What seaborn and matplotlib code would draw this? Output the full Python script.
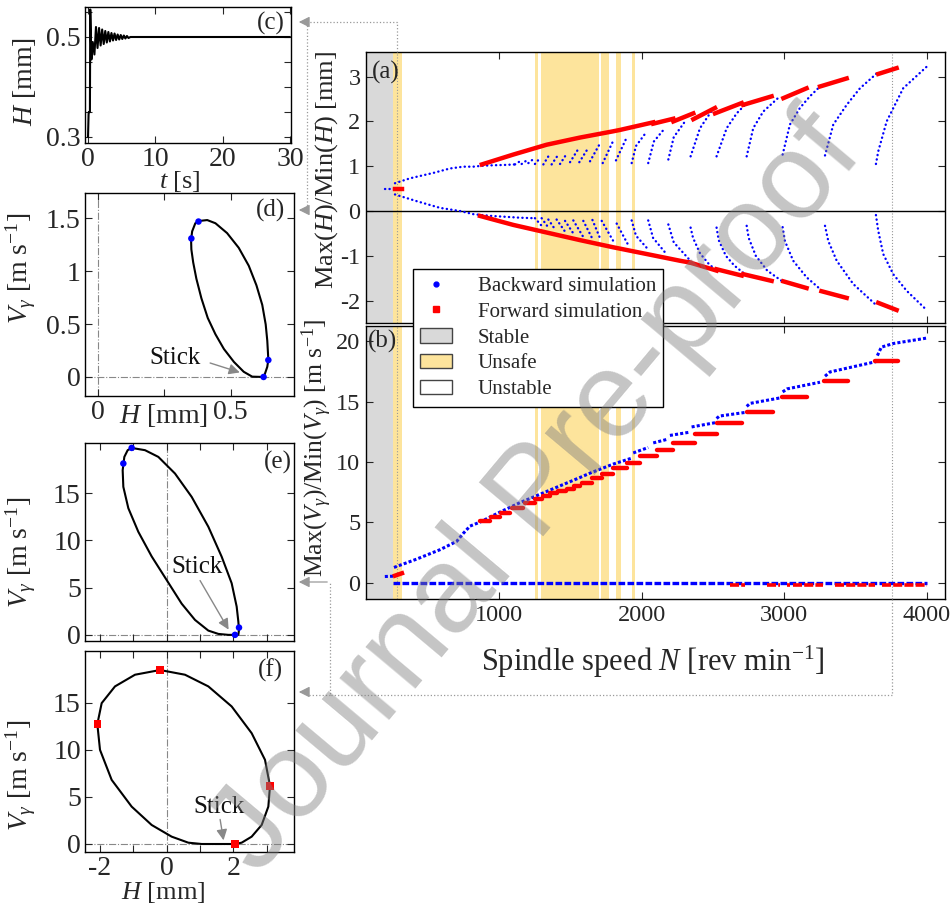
import matplotlib
matplotlib.use("Agg")
import matplotlib.pyplot as plt
import seaborn as sns
from matplotlib.lines import Line2D
from matplotlib.patches import Patch, FancyArrowPatch

sns.set_theme(style="ticks")
plt.rcParams['font.family'] = ['Liberation Serif', 'DejaVu Serif']
plt.rcParams['mathtext.fontset'] = 'custom'
plt.rcParams['mathtext.rm'] = 'Liberation Serif'
plt.rcParams['mathtext.it'] = 'Liberation Serif:italic'
plt.rcParams['mathtext.bf'] = 'Liberation Serif:bold'
plt.rcParams['axes.unicode_minus'] = False

# ---------------- data: regions ----------------
stable_span = (60, 259)
unsafe_spans = [(259, 318), (1252, 1273), (1294, 1701), (1715, 1771), (1818, 1855), (1932, 1953)]
marker_N = [285, 3755]

# ---------------- data: panel (a) ----------------
a_blue_stable_N = [200, 270]
a_blue_stable_H = [0.49, 0.49]
a_red_stable_N = [271, 320]
a_red_stable_H = [0.49, 0.49]

a_blue_up_main_N = [271, 376, 539, 657, 750, 820, 880, 950, 1050, 1110]
a_blue_up_main_H = [0.62, 0.73, 0.85, 0.95, 0.99, 0.99, 1.01, 1.02, 1.03, 1.04]
a_blue_lo_main_N = [271, 423, 587, 727, 820, 879, 950, 1050, 1150, 1250]
a_blue_lo_main_H = [0.37, 0.22, 0.07, 0.0, -0.07, -0.09, -0.11, -0.13, -0.15, -0.16]

a_blue_up_strokes_N = [
    [1112, 1147], [1159, 1194], [1206, 1241], [1252, 1287], [1311, 1346],
    [1369, 1416], [1428, 1479], [1498, 1549], [1563, 1626], [1638, 1703],
    [1727, 1801], [1820, 1895], [1930, 1960, 2023], [2046, 2085, 2163],
    [2187, 2225, 2304], [2343, 2409, 2500], [2525, 2596, 2666, 2724],
    [2736, 2782, 2852, 2969], [2988, 3039, 3109, 3179, 3250],
    [3285, 3343, 3437, 3530, 3647], [3642, 3658, 3717, 3833, 3997]]
a_blue_up_strokes_H = [
    [1.04, 1.11], [1.05, 1.13], [1.07, 1.16], [1.05, 1.18], [1.04, 1.22],
    [1.04, 1.26], [1.05, 1.30], [1.09, 1.35], [1.09, 1.41], [1.11, 1.48],
    [1.07, 1.57], [1.13, 1.64], [1.07, 1.45, 1.72], [1.07, 1.55, 1.85],
    [1.15, 1.65, 2.0], [1.22, 1.85, 2.28], [1.22, 1.85, 2.18, 2.37],
    [1.22, 1.85, 2.22, 2.56], [1.26, 1.93, 2.30, 2.56, 2.78],
    [1.24, 1.93, 2.37, 2.74, 3.07], [1.05, 1.33, 2.0, 2.74, 3.22]]

a_blue_lo_strokes_N = [
    [1252, 1299], [1299, 1346], [1346, 1393], [1404, 1463], [1463, 1521],
    [1521, 1587], [1591, 1650], [1655, 1710], [1720, 1801], [1825, 1906],
    [1930, 1960, 2035], [2046, 2080, 2163], [2187, 2225, 2330],
    [2343, 2360, 2410, 2470, 2525], [2525, 2540, 2590, 2650, 2724],
    [2736, 2750, 2800, 2880, 2981], [2988, 3004, 3062, 3156, 3250],
    [3285, 3308, 3367, 3483, 3647], [3642, 3658, 3693, 3763, 3857, 3997]]
a_blue_lo_strokes_H = [
    [-0.16, -0.33], [-0.16, -0.37], [-0.19, -0.41], [-0.19, -0.46], [-0.22, -0.50],
    [-0.21, -0.56], [-0.22, -0.59], [-0.20, -0.62], [-0.22, -0.67], [-0.28, -0.76],
    [-0.21, -0.55, -0.82], [-0.21, -0.60, -0.92], [-0.30, -0.70, -1.07],
    [-0.37, -0.60, -0.95, -1.18, -1.33], [-0.37, -0.65, -1.0, -1.22, -1.41],
    [-0.33, -0.60, -1.0, -1.33, -1.56], [-0.36, -0.67, -1.11, -1.48, -1.74],
    [-0.33, -0.67, -1.11, -1.63, -2.11], [-0.09, -0.44, -0.96, -1.41, -1.78, -2.21]]

a_red_up_N = [[880, 1100, 1334, 1568, 1801, 1848, 2081], [2081, 2222], [2222, 2362],
              [2362, 2514], [2514, 2701], [2712, 2911], [2993, 3156], [3250, 3437], [3658, 3787]]
a_red_up_H = [[1.04, 1.26, 1.48, 1.64, 1.78, 1.81, 1.98], [1.95, 2.06], [2.00, 2.18],
              [2.05, 2.30], [2.18, 2.41], [2.37, 2.56], [2.52, 2.74], [2.78, 2.96], [3.06, 3.19]]
a_red_lo_N = [[867, 1100, 1334, 1568, 1801, 2035, 2268, 2338], [2338, 2525], [2525, 2701],
              [2712, 2911], [2993, 3156], [3260, 3437], [3658, 3787]]
a_red_lo_H = [[-0.11, -0.31, -0.48, -0.65, -0.81, -0.96, -1.11, -1.15], [-1.15, -1.33], [-1.30, -1.44],
              [-1.41, -1.56], [-1.57, -1.72], [-1.79, -1.94], [-2.05, -2.21]]

# ---------------- data: panel (b) ----------------
b_blue_up_N = [[200, 270],
               [264, 423, 587, 704, 750, 797, 867, 1007, 1147, 1287, 1428, 1568, 1638, 1801, 1925],
               [1941, 2046], [2081, 2187], [2198, 2338], [2350, 2514],
               [2525, 2545, 2724], [2736, 2760, 2969], [2988, 3020, 3250],
               [3285, 3320, 3642], [3652, 3680, 3763, 3997]]
b_blue_up_V = [[0.53, 0.56],
               [1.28, 1.97, 2.75, 3.44, 4.1, 4.7, 5.03, 5.86, 6.64, 7.33, 8.03, 8.72, 9.08, 9.83, 10.3],
               [10.75, 11.2], [11.58, 11.9], [12.2, 12.47], [12.9, 13.25],
               [13.6, 13.8, 14.1], [14.6, 14.85, 15.3], [15.8, 16.05, 16.6],
               [17.1, 17.45, 18.3], [18.8, 19.5, 19.8, 20.25]]
b_blue_min_N = [259, 4000]
b_blue_min_V = [0.0, 0.0]
b_red_stable_N = [271, 320]
b_red_stable_V = [0.6, 0.8]
b_red_step_N0 = [867, 945, 1015, 1090, 1180, 1250, 1310, 1360, 1415, 1475, 1525, 1580, 1650,
                 1720, 1800, 1895, 1990, 2105, 2222, 2374, 2525, 2736, 2981, 3278, 3635]
b_red_step_N1 = [940, 1010, 1080, 1170, 1250, 1305, 1360, 1410, 1470, 1525, 1570, 1650, 1720,
                 1800, 1895, 1990, 2105, 2222, 2374, 2525, 2701, 2918, 3156, 3446, 3794]
b_red_step_V = [5.1, 5.45, 5.75, 6.2, 6.65, 6.95, 7.2, 7.45, 7.6, 7.8, 8.05, 8.3, 8.65,
                9.05, 9.5, 9.95, 10.5, 11.0, 11.6, 12.35, 13.25, 14.15, 15.35, 16.7, 18.35]
b_red_min_N0 = [2619, 2876, 3016, 3063, 3355, 3682]
b_red_min_N1 = [2724, 2969, 3039, 3273, 3635, 3997]
b_red_min_V = -0.15

# ---------------- data: panel (c) ----------------
c_t = [0.0, 0.08, 0.12, 0.28, 0.33, 0.5, 0.7, 0.95, 1.18, 1.41, 1.64, 1.87, 2.10, 2.33, 2.56, 2.79,
       3.02, 3.25, 3.48, 3.71, 3.94, 4.17, 4.40, 4.63, 4.86, 5.09, 5.32, 5.55, 5.78, 6.01, 6.3, 30.0]
c_H = [0.30, 0.345, 0.35, 0.35, 0.555, 0.455, 0.49, 0.465, 0.52, 0.478, 0.518, 0.483, 0.515, 0.486,
       0.512, 0.489, 0.510, 0.491, 0.508, 0.493, 0.507, 0.494, 0.505, 0.495, 0.504, 0.496, 0.503,
       0.497, 0.502, 0.498, 0.50, 0.50]

# ---------------- data: panel (d) ----------------
d_H = [0.380, 0.367, 0.355, 0.351, 0.352, 0.359, 0.371, 0.390, 0.414, 0.443, 0.475, 0.513, 0.550,
       0.582, 0.626, 0.639, 0.643, 0.639, 0.633, 0.620, 0.598, 0.569, 0.531, 0.487, 0.443, 0.412, 0.380]
d_V = [1.475, 1.454, 1.377, 1.299, 1.207, 1.083, 0.929, 0.744, 0.558, 0.404, 0.265, 0.142, 0.049,
       0.003, 0.0, 0.096, 0.164, 0.343, 0.497, 0.682, 0.867, 1.052, 1.222, 1.361, 1.454, 1.484, 1.475]
d_pts_H = [0.352, 0.379, 0.643, 0.625]
d_pts_V = [1.31, 1.47, 0.16, 0.0]

# ---------------- data: panel (e) ----------------
e_H = [-1.05, -0.65, -0.25, 0.25, 0.75, 1.25, 1.65, 1.95, 2.10, 2.15, 2.17, 2.15, 1.85, 1.55,
       1.25, 0.85, 0.45, 0.0, -0.45, -0.85, -1.15, -1.30, -1.32, -1.27, -1.17, -1.05]
e_V = [19.78, 19.54, 18.83, 17.07, 14.6, 11.44, 8.27, 5.46, 2.99, 1.41, 0.53, 0.0, 0.0, 0.1,
       0.45, 1.58, 3.3, 5.8, 8.3, 10.9, 13.4, 15.66, 17.42, 18.83, 19.54, 19.78]
e_pts_H = [-1.30, -1.05, 2.17, 2.05]
e_pts_V = [18.13, 19.78, 0.77, 0.0]

# ---------------- data: panel (f) ----------------
f_H = [-0.2, 0.55, 1.25, 1.95, 2.55, 2.95, 3.10, 3.05, 2.85, 2.55, 2.25, 2.05, 1.55, 1.05, 0.65,
       0.15, -0.45, -1.05, -1.65, -2.0, -2.08, -1.95, -1.55, -0.95, -0.2]
f_V = [18.48, 17.98, 16.74, 14.61, 11.77, 8.94, 6.17, 3.97, 2.02, 0.78, 0.14, 0.0, 0.0, 0.0, 0.14,
       0.78, 2.02, 3.97, 6.81, 10.0, 12.73, 14.96, 16.74, 17.98, 18.48]
f_pts_H = [-0.2, -2.08, 3.10, 2.05]
f_pts_V = [18.48, 12.73, 6.17, 0.0]

# ---------------- styling ----------------
BLUE = '#0000ff'
RED = '#ff0000'
GRAY_SPAN = '#d9d9d9'
YELLOW = '#fde49c'
W, Hpx = 950, 907


def fx(x):
    return x / W


def fy(y):
    return 1 - y / Hpx


def rect(l, r, t, b):
    return [fx(l), fy(b), (r - l) / W, (b - t) / Hpx]


fig = plt.figure(figsize=(9.5, 9.07), dpi=100)

ax_a = fig.add_axes(rect(366, 945, 52, 323))
ax_b = fig.add_axes(rect(366, 945, 326, 599))
ax_c = fig.add_axes(rect(85, 291, 7, 143))
ax_d = fig.add_axes(rect(85, 294, 193, 396))
ax_e = fig.add_axes(rect(85, 294, 443, 641))
ax_f = fig.add_axes(rect(85, 294, 651, 852))


def line(ax, x, y, **kw):
    sns.lineplot(x=x, y=y, ax=ax, sort=False, estimator=None, legend=False, **kw)


dot_kw = dict(color=BLUE, lw=1.7, linestyle=(0, (0.1, 1.8)), dash_capstyle='round')
red_kw = dict(color=RED, lw=3.2, solid_capstyle='projecting')

for ax in (ax_a, ax_b):
    ax.axvspan(*stable_span, color=GRAY_SPAN, lw=0, zorder=0)
    for s in unsafe_spans:
        ax.axvspan(*s, color=YELLOW, lw=0, zorder=0)
    for n in marker_N:
        ax.axvline(n, color='#999999', lw=0.8, linestyle=':', zorder=1)
    ax.set_xlim(68, 4126)
    ax.tick_params(direction='in', top=True, right=True, length=5, width=0.8, labelsize=17.5, pad=4)
    for sp in ax.spines.values():
        sp.set_linewidth(1.0)
        sp.set_color('black')

# ---- panel (a)
ax_a.axhline(0, color='black', lw=1.0, zorder=2)
line(ax_a, a_blue_stable_N, a_blue_stable_H, **dot_kw)
line(ax_a, a_blue_up_main_N, a_blue_up_main_H, **dot_kw)
line(ax_a, a_blue_lo_main_N, a_blue_lo_main_H, **dot_kw)
for n, h in zip(a_blue_up_strokes_N, a_blue_up_strokes_H):
    line(ax_a, n, h, **dot_kw)
for n, h in zip(a_blue_lo_strokes_N, a_blue_lo_strokes_H):
    line(ax_a, n, h, **dot_kw)
line(ax_a, a_red_stable_N, a_red_stable_H, **red_kw)
for n, h in zip(a_red_up_N, a_red_up_H):
    line(ax_a, n, h, **red_kw)
for n, h in zip(a_red_lo_N, a_red_lo_H):
    line(ax_a, n, h, **red_kw)
ax_a.set_ylim(-2.5, 3.55)
ax_a.set_yticks([-2, -1, 0, 1, 2, 3])
ax_a.set_xticks([1000, 2000, 3000, 4000])
ax_a.set_xticklabels([])
ax_a.set_ylabel('Max($H$)/Min($H$) [mm]', fontsize=19)
ax_a.yaxis.set_label_coords(-0.045, 0.565)
ax_a.text(0.01, 0.926, '(a)', transform=ax_a.transAxes, fontsize=18, ha='left', va='center')

# ---- panel (b)
line(ax_b, b_blue_min_N, b_blue_min_V, color=BLUE, lw=2.4, linestyle=(0, (2.0, 0.7)))
for n, v in zip(b_blue_up_N, b_blue_up_V):
    line(ax_b, n, v, color=BLUE, lw=2.2, linestyle=(0, (1.0, 0.7)))
line(ax_b, b_red_stable_N, b_red_stable_V, **red_kw)
for n0, n1, v in zip(b_red_step_N0, b_red_step_N1, b_red_step_V):
    line(ax_b, [n0, n1], [v, v], color=RED, lw=3.2)
for n0, n1 in zip(b_red_min_N0, b_red_min_N1):
    line(ax_b, [n0, n1], [b_red_min_V, b_red_min_V], color=RED, lw=2.6, linestyle=(0, (2.5, 0.6)))
ax_b.set_ylim(-1.33, 21.25)
ax_b.set_yticks([0, 5, 10, 15, 20])
ax_b.set_xticks([1000, 2000, 3000, 4000])
ax_b.set_ylabel('Max($V_\\gamma$)/Min($V_\\gamma$) [m s$^{-1}$]', fontsize=18.5)
ax_b.yaxis.set_label_coords(-0.055, 0.553)
ax_b.set_xlabel('Spindle speed $N$ [rev min$^{-1}$]', fontsize=22)
ax_b.xaxis.set_label_coords(0.496, -0.165)
ax_b.text(0.004, 0.945, '(b)', transform=ax_b.transAxes, fontsize=18, ha='left', va='center')

# ---- small panels common
for ax in (ax_c, ax_d, ax_e, ax_f):
    ax.tick_params(direction='in', top=True, right=True, length=5, width=0.8, labelsize=20, pad=3)
    for sp in ax.spines.values():
        sp.set_linewidth(1.0)
        sp.set_color('black')

# ---- panel (c)
line(ax_c, c_t, c_H, color='black', lw=1.5)
ax_c.set_xlim(-0.45, 30.15)
ax_c.set_ylim(0.288, 0.56)
ax_c.set_xticks([0, 10, 20, 30])
ax_c.set_yticks([0.3, 0.35, 0.4, 0.45, 0.5, 0.55])
ax_c.set_yticklabels(['0.3', '', '', '', '0.5', ''])
ax_c.set_xlabel('$t$ [s]', fontsize=19)
ax_c.xaxis.set_label_coords(0.46, -0.19)
ax_c.set_ylabel('$H$ [mm]', fontsize=20)
ax_c.yaxis.set_label_coords(-0.228, 0.45)
ax_c.text(0.971, 0.882, '(c)', transform=ax_c.transAxes, fontsize=18, ha='right', va='center')


def phase_axes(ax):
    ax.axhline(0, color='#888888', lw=0.8, linestyle='-.', zorder=0)
    ax.axvline(0, color='#888888', lw=0.8, linestyle='-.', zorder=0)


def stick(ax, txt_xy, tail, head):
    ax.text(*txt_xy, 'Stick', fontsize=18, ha='center', va='center', color='#111111')
    ax.annotate('', xy=head, xytext=tail,
                arrowprops=dict(arrowstyle='-|>', color='#888888', lw=1.0, mutation_scale=16))


# ---- panel (d)
phase_axes(ax_d)
line(ax_d, d_H, d_V, color='black', lw=1.5)
sns.scatterplot(x=d_pts_H, y=d_pts_V, ax=ax_d, color=BLUE, s=22, marker='o', edgecolor='none', zorder=5)
ax_d.set_xlim(-0.05, 0.74)
ax_d.set_ylim(-0.18, 1.74)
ax_d.set_xticks([0, 0.25, 0.5])
ax_d.set_xticklabels(['0', '', '0.5'])
ax_d.set_yticks([0, 0.5, 1, 1.5])
ax_d.set_yticklabels(['0', '0.5', '1', '1.5'])
ax_d.set_xlabel('$H$ [mm]', fontsize=20)
ax_d.xaxis.set_label_coords(0.373, -0.03)
ax_d.set_ylabel('$V_\\gamma$ [m s$^{-1}$]', fontsize=20)
ax_d.yaxis.set_label_coords(-0.225, 0.63)
stick(ax_d, (0.29, 0.18), (0.413, 0.14), (0.545, 0.035))
ax_d.text(0.957, 0.916, '(d)', transform=ax_d.transAxes, fontsize=18, ha='right', va='center')

# ---- panel (e)
phase_axes(ax_e)
line(ax_e, e_H, e_V, color='black', lw=1.5)
sns.scatterplot(x=e_pts_H, y=e_pts_V, ax=ax_e, color=BLUE, s=22, marker='o', edgecolor='none', zorder=5)
ax_e.set_xlim(-2.45, 3.82)
ax_e.set_ylim(-0.65, 20.3)
ax_e.set_xticks([-2, -1, 0, 1, 2, 3])
ax_e.set_xticklabels([])
ax_e.set_yticks([0, 5, 10, 15])
ax_e.set_ylabel('$V_\\gamma$ [m s$^{-1}$]', fontsize=20)
ax_e.yaxis.set_label_coords(-0.225, 0.45)
stick(ax_e, (0.9, 7.2), (0.96, 6.0), (1.9, 0.3))
ax_e.text(0.99, 0.9, '(e)', transform=ax_e.transAxes, fontsize=18, ha='right', va='center')

# ---- panel (f)
phase_axes(ax_f)
line(ax_f, f_H, f_V, color='black', lw=1.5)
sns.scatterplot(x=f_pts_H, y=f_pts_V, ax=ax_f, color=RED, s=30, marker='s', edgecolor='none', zorder=5)
ax_f.set_xlim(-2.45, 3.82)
ax_f.set_ylim(-0.85, 20.5)
ax_f.set_xticks([-2, -1, 0, 1, 2, 3])
ax_f.set_xticklabels(['-2', '', '0', '', '2', ''])
ax_f.set_yticks([0, 5, 10, 15])
ax_f.set_xlabel('$H$ [mm]', fontsize=19)
ax_f.xaxis.set_label_coords(0.373, -0.14)
ax_f.set_ylabel('$V_\\gamma$ [m s$^{-1}$]', fontsize=20)
ax_f.yaxis.set_label_coords(-0.225, 0.38)
stick(ax_f, (1.56, 3.9), (1.59, 2.9), (1.72, 0.1))
ax_f.text(0.947, 0.905, '(f)', transform=ax_f.transAxes, fontsize=18, ha='right', va='center')

# ---- legend
handles = [
    Line2D([], [], color=BLUE, marker='o', linestyle='none', markersize=3.5),
    Line2D([], [], color=RED, marker='s', linestyle='none', markersize=4.5),
    Patch(facecolor=GRAY_SPAN, edgecolor='#444444', lw=1.0),
    Patch(facecolor=YELLOW, edgecolor='#444444', lw=1.0),
    Patch(facecolor='white', edgecolor='#444444', lw=1.0),
]
labels = ['Backward simulation', 'Forward simulation', 'Stable', 'Unsafe', 'Unstable']
leg = fig.legend(handles, labels, loc='upper left', bbox_to_anchor=(fx(413), fy(269)),
                 bbox_transform=fig.transFigure, fontsize=15, frameon=True, fancybox=False,
                 edgecolor='black', framealpha=1, borderaxespad=0, borderpad=0.35,
                 handlelength=1.5, handleheight=0.7, handletextpad=1.25, labelspacing=0.3,
                 numpoints=1)
leg.get_frame().set_linewidth(1.0)
leg.set_zorder(20)

# ---- connectors (figure pixels)
CON = '#999999'


def fline(xs, ys):
    fig.add_artist(Line2D([fx(x) for x in xs], [fy(y) for y in ys], transform=fig.transFigure,
                          color=CON, lw=0.9, linestyle=':', zorder=15))


def fhead(x0, y0, x1, y1):
    fig.add_artist(FancyArrowPatch((fx(x0), fy(y0)), (fx(x1), fy(y1)), transform=fig.transFigure,
                                   arrowstyle='-|>', mutation_scale=16, color=CON, lw=0.9, zorder=15))


fline([397, 397, 307], [52, 22, 22])
fhead(307, 22, 296, 22)
fline([307, 307], [22, 210])
fhead(307, 210, 296, 210)
fline([892, 892, 330, 330], [599, 695, 695, 582])
fhead(330, 582, 296, 582)
fline([330, 307], [695, 695])
fhead(307, 692, 296, 692)

# ---- watermark
fig.text(0.565, 0.455, 'Journal Pre-proof', rotation=50, fontsize=88, family='Liberation Sans',
         color='#7f7f7f', alpha=0.45, ha='center', va='center', zorder=100)

fig.savefig('out.png', dpi=100)
